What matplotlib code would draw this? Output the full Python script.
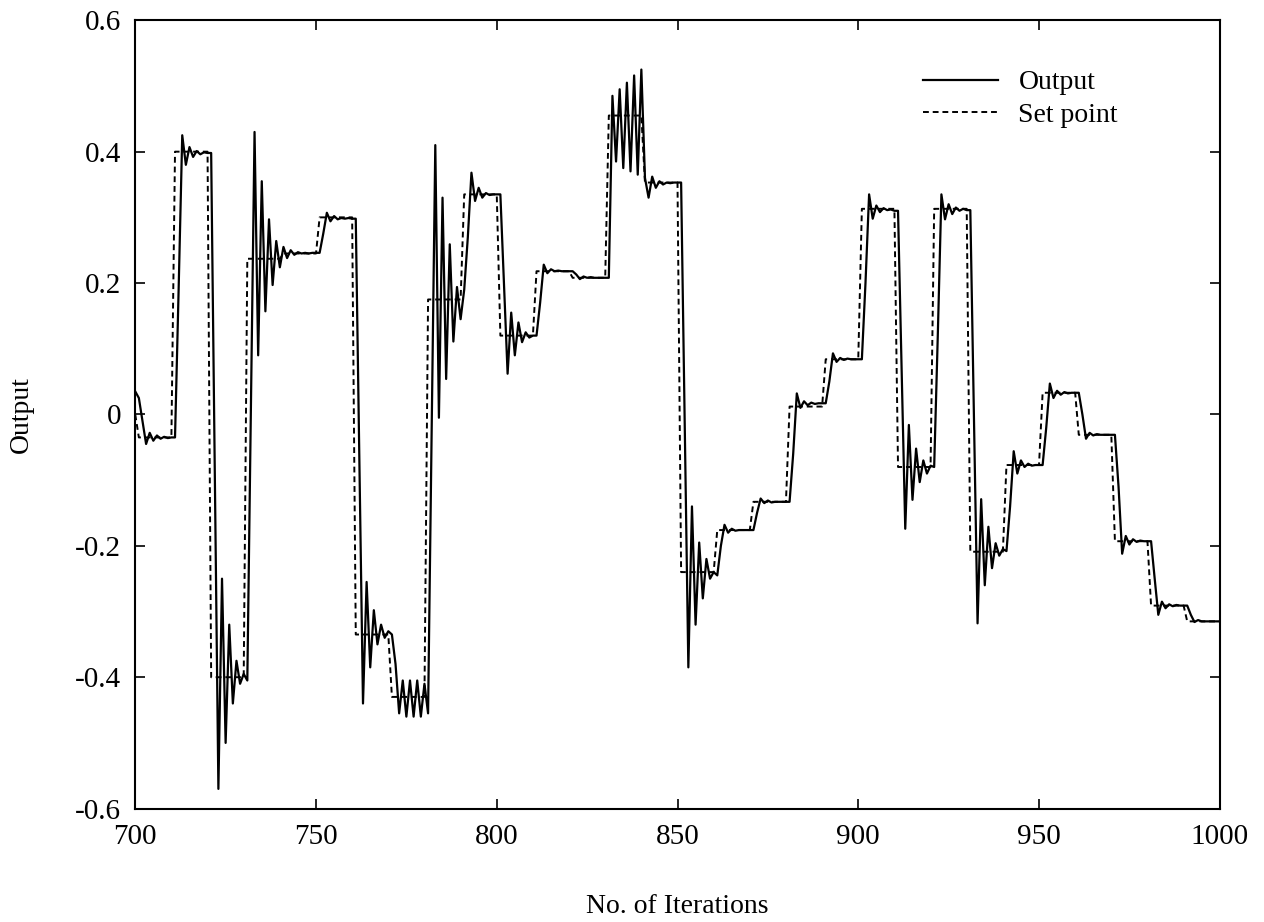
import numpy as np
import matplotlib
matplotlib.use("Agg")
from matplotlib import pyplot as plt

plt.rcParams['font.family'] = ['Liberation Serif', 'DejaVu Serif']
plt.rcParams['axes.unicode_minus'] = False

# iterations shown on the x axis
iterations = np.arange(700, 1001)

# set point: value at 700, then one level per block of 10 iterations
setpoint_start = 0.0
setpoint_levels = [-0.035, 0.40, -0.40, 0.237, 0.245, 0.30, -0.335, -0.43, 0.175, 0.335,
                   0.12, 0.218, 0.208, 0.455, 0.353, -0.24, -0.176, -0.133, 0.012, 0.084,
                   0.313, -0.08, 0.313, -0.209, -0.077, 0.033, -0.031, -0.193, -0.291, -0.315]

# plant output, one value per iteration (700..1000)
output = [
    0.035,
    0.025, -0.01, -0.045, -0.028, -0.04, -0.032, -0.037, -0.034, -0.036, -0.035,
    -0.035, 0.19, 0.425, 0.38, 0.407, 0.392, 0.401, 0.396, 0.399, 0.398,
    0.398, -0.09, -0.57, -0.25, -0.50, -0.32, -0.44, -0.375, -0.41, -0.395,
    -0.405, 0.01, 0.43, 0.09, 0.355, 0.157, 0.297, 0.197, 0.264, 0.224,
    0.255, 0.238, 0.25, 0.243, 0.247, 0.245, 0.246, 0.245, 0.246, 0.246,
    0.246, 0.275, 0.307, 0.294, 0.302, 0.297, 0.299, 0.298, 0.299, 0.298,
    0.298, -0.07, -0.44, -0.255, -0.385, -0.298, -0.35, -0.32, -0.34, -0.33,
    -0.335, -0.38, -0.455, -0.405, -0.46, -0.405, -0.46, -0.405, -0.46, -0.41,
    -0.455, -0.02, 0.41, -0.005, 0.33, 0.054, 0.259, 0.111, 0.194, 0.145,
    0.19, 0.27, 0.368, 0.325, 0.345, 0.33, 0.337, 0.334, 0.335, 0.335,
    0.335, 0.2, 0.062, 0.155, 0.09, 0.14, 0.11, 0.125, 0.117, 0.12,
    0.12, 0.17, 0.228, 0.215, 0.221, 0.218, 0.219, 0.218, 0.218, 0.218,
    0.218, 0.213, 0.206, 0.21, 0.208, 0.209, 0.208, 0.208, 0.208, 0.208,
    0.208, 0.485, 0.385, 0.495, 0.375, 0.505, 0.37, 0.516, 0.365, 0.525,
    0.36, 0.33, 0.362, 0.345, 0.355, 0.35, 0.353, 0.352, 0.353, 0.353,
    0.353, -0.02, -0.385, -0.14, -0.32, -0.195, -0.28, -0.22, -0.25, -0.24,
    -0.245, -0.2, -0.168, -0.18, -0.174, -0.177, -0.176, -0.176, -0.176, -0.176,
    -0.176, -0.15, -0.128, -0.135, -0.131, -0.134, -0.133, -0.133, -0.133, -0.133,
    -0.133, -0.06, 0.032, 0.01, 0.02, 0.014, 0.018, 0.016, 0.017, 0.017,
    0.017, 0.05, 0.093, 0.08, 0.086, 0.083, 0.085, 0.084, 0.084, 0.084,
    0.084, 0.2, 0.335, 0.298, 0.318, 0.308, 0.314, 0.311, 0.312, 0.31,
    0.31, 0.07, -0.174, -0.016, -0.13, -0.052, -0.103, -0.07, -0.09, -0.078,
    -0.08, 0.12, 0.335, 0.297, 0.32, 0.305, 0.315, 0.31, 0.313, 0.311,
    0.311, 0.0, -0.318, -0.129, -0.26, -0.171, -0.234, -0.196, -0.215, -0.205,
    -0.208, -0.14, -0.056, -0.09, -0.07, -0.08, -0.075, -0.078, -0.077, -0.077,
    -0.077, -0.02, 0.047, 0.025, 0.036, 0.03, 0.034, 0.032, 0.033, 0.033,
    0.033, 0.0, -0.037, -0.028, -0.032, -0.03, -0.031, -0.031, -0.031, -0.031,
    -0.031, -0.11, -0.212, -0.185, -0.198, -0.19, -0.194, -0.192, -0.193, -0.193,
    -0.193, -0.25, -0.305, -0.285, -0.295, -0.289, -0.292, -0.29, -0.291, -0.291,
    -0.291, -0.305, -0.316, -0.313, -0.315, -0.315, -0.315, -0.315, -0.315, -0.315,
]

xtick_values = [700, 750, 800, 850, 900, 950, 1000]
ytick_values = [-0.6, -0.4, -0.2, 0, 0.2, 0.4, 0.6]
ytick_labels = ['-0.6', '-0.4', '-0.2', '0', '0.2', '0.4', '0.6']

setpoint = np.concatenate([[setpoint_start], np.repeat(setpoint_levels, 10)])

fig = plt.figure(figsize=(12.64, 9.22), dpi=100)
ax = fig.add_axes([0.107, 0.123, 0.858, 0.855])

ax.plot(iterations, output, color='black', lw=1.6, label='Output')
ax.plot(iterations, setpoint, color='black', lw=1.4, linestyle=(0, (3, 2)), label='Set point')

ax.set_xlim(700, 1000)
ax.set_ylim(-0.6, 0.6)
ax.set_xticks(xtick_values)
ax.set_yticks(ytick_values)
ax.set_yticklabels(ytick_labels)
ax.tick_params(direction='in', length=7, width=1.2, labelsize=21,
               top=True, right=True)
ax.tick_params(axis='x', pad=11)
ax.tick_params(axis='y', pad=10)
for s in ax.spines.values():
    s.set_linewidth(1.5)

ax.set_xlabel('No. of Iterations', fontsize=20, labelpad=32)
ax.set_ylabel('Output', fontsize=20, labelpad=30)

ax.legend(loc='upper left', bbox_to_anchor=(0.726, 0.937), frameon=False,
          fontsize=20, handlelength=2.7, handletextpad=0.75, labelspacing=0.25,
          borderpad=0, borderaxespad=0)

fig.savefig('out.png', dpi=100, facecolor='white')
